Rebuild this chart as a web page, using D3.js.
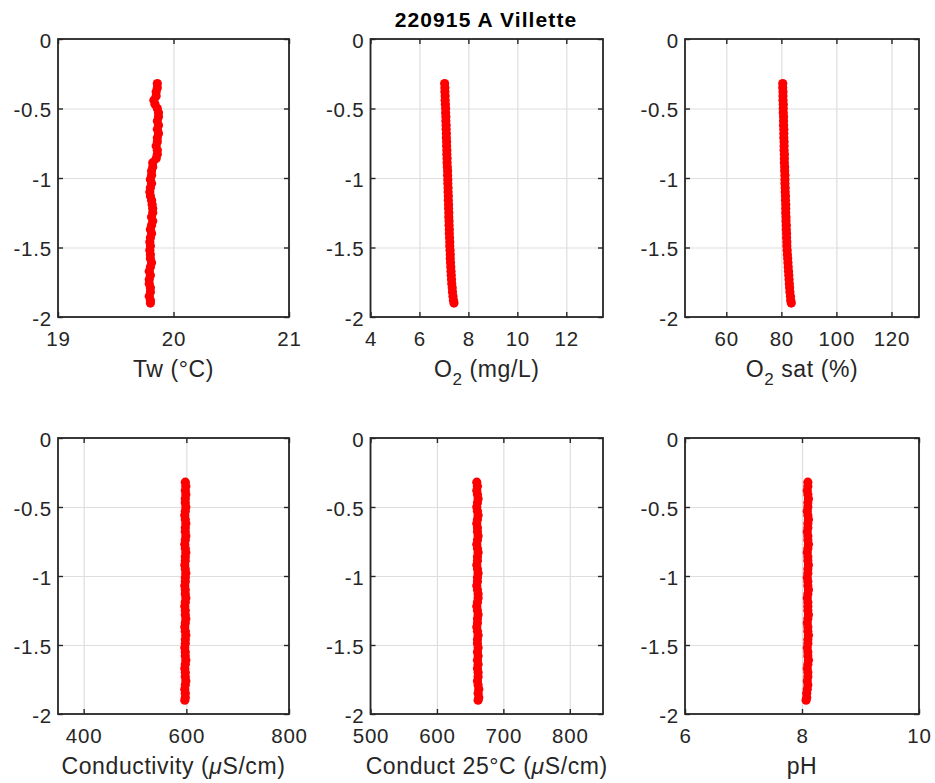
<!DOCTYPE html>
<html><head><meta charset="utf-8">
<script src="https://cdn.jsdelivr.net/npm/d3@7"></script>
<style>
body{margin:0;background:#fff}
svg{display:block}
text{font-family:"Liberation Sans",Arial,Helvetica,sans-serif;fill:#262626;white-space:pre}
</style>
</head><body>
<svg id="c" width="935" height="783"></svg>
<script>
// ---------- data ----------
const depth = [-0.32,-0.35,-0.38,-0.41,-0.44,-0.47,-0.50,-0.53,-0.56,-0.59,-0.62,-0.65,-0.68,-0.71,-0.74,-0.77,-0.80,-0.83,-0.86,-0.89,-0.92,-0.95,-0.98,-1.01,-1.04,-1.07,-1.10,-1.13,-1.16,-1.19,-1.22,-1.25,-1.28,-1.31,-1.34,-1.37,-1.40,-1.43,-1.46,-1.49,-1.52,-1.55,-1.58,-1.61,-1.64,-1.67,-1.70,-1.73,-1.76,-1.79,-1.82,-1.85,-1.88,-1.90];
const tempW = [19.86,19.86,19.85,19.85,19.83,19.84,19.86,19.87,19.87,19.86,19.87,19.86,19.87,19.86,19.86,19.85,19.86,19.86,19.85,19.82,19.82,19.81,19.81,19.80,19.81,19.80,19.795,19.80,19.81,19.815,19.82,19.82,19.81,19.82,19.81,19.80,19.81,19.80,19.795,19.80,19.795,19.80,19.80,19.81,19.80,19.79,19.80,19.79,19.79,19.80,19.80,19.79,19.80,19.80];
const o2mg = [7.03,7.04,7.04,7.05,7.05,7.06,7.07,7.07,7.08,7.08,7.09,7.09,7.10,7.10,7.11,7.11,7.12,7.12,7.13,7.13,7.14,7.15,7.15,7.16,7.16,7.17,7.17,7.18,7.18,7.19,7.19,7.20,7.20,7.21,7.21,7.22,7.22,7.23,7.24,7.24,7.25,7.26,7.26,7.27,7.28,7.29,7.30,7.31,7.32,7.34,7.35,7.37,7.39,7.41];
const o2sat = [80.5,80.5,80.6,80.6,80.6,80.7,80.7,80.7,80.8,80.8,80.8,80.9,80.9,80.9,81.0,81.0,81.0,81.1,81.1,81.1,81.2,81.2,81.3,81.3,81.3,81.4,81.4,81.5,81.5,81.6,81.6,81.6,81.7,81.7,81.8,81.8,81.9,81.9,82.0,82.0,82.1,82.2,82.3,82.4,82.5,82.6,82.7,82.8,82.9,83.0,83.1,83.3,83.4,83.6];
const cond = [598,599,598,599,598,598,599,598,597,598,599,598,598,599,598,597,598,599,598,598,597,598,599,598,598,597,598,598,599,598,597,598,598,599,598,597,598,599,598,598,597,598,598,599,598,597,598,598,599,598,597,598,598,597];
const cond25 = [660,661,660,661,662,661,660,661,662,661,660,661,661,662,661,660,661,662,661,661,660,661,662,661,661,660,661,662,662,661,660,661,662,661,661,660,661,662,661,661,662,661,662,661,662,661,662,662,661,662,663,662,663,662];
const ph = [8.10,8.10,8.09,8.10,8.11,8.10,8.10,8.09,8.10,8.11,8.10,8.10,8.09,8.10,8.10,8.11,8.10,8.09,8.10,8.10,8.11,8.10,8.10,8.09,8.10,8.10,8.11,8.10,8.09,8.10,8.10,8.10,8.11,8.10,8.09,8.10,8.10,8.11,8.10,8.10,8.09,8.10,8.10,8.11,8.10,8.09,8.10,8.10,8.09,8.10,8.09,8.08,8.08,8.07];

const titleText = "220915 A Villette";
const xDomains = [[19,21],[4,13.5],[45,130],[350,800],[500,850],[6,10]];
const xTickVals = [[19,20,21],[4,6,8,10,12],[60,80,100,120],[400,600,800],[500,600,700,800],[6,8,10]];
const yDomain = [-2,0];
const yTickVals = [0,-0.5,-1,-1.5,-2];
const xLabels = [
  [{t:"Tw (°C)"}],
  [{t:"O"},{t:"2",sub:true},{t:" (mg/L)"}],
  [{t:"O"},{t:"2",sub:true},{t:" sat (%)"}],
  [{t:"Conductivity ("},{t:"μ",it:true},{t:"S/cm)"}],
  [{t:"Conduct 25°C ("},{t:"μ",it:true},{t:"S/cm)"}],
  [{t:"pH"}]
];
const series = [tempW,o2mg,o2sat,cond,cond25,ph];

// ---------- layout ----------
const cols = [[58,289],[370.5,603],[685,919]];
const rows = [[39,317],[438,714]];
const TICK_FS = 20.5, TICK_LS = 0.8, LAB_FS = 23, LAB_LS = 0.6;
const AX = "#262626";

const svg = d3.select("#c");

function styleTicks(s){
  s.select(".domain").remove();
  s.attr("font-family",null).attr("font-size",null);
  s.selectAll(".tick line").attr("stroke",AX).attr("stroke-width",1.4);
  s.selectAll(".tick text").attr("fill",AX)
    .style("font-size",TICK_FS+"px").style("letter-spacing",TICK_LS+"px");
}

series.forEach((vals,i)=>{
  const col=i%3,row=Math.floor(i/3);
  const [x0,x1]=cols[col],[y0,y1]=rows[row];
  const x=d3.scaleLinear().domain(xDomains[i]).range([x0,x1]);
  const y=d3.scaleLinear().domain(yDomain).range([y1,y0]);
  const g=svg.append("g");
  const w=x1-x0,h=y1-y0;

  // grid
  g.append("g").attr("transform",`translate(0,${y1})`)
    .call(d3.axisBottom(x).tickValues(xTickVals[i]).tickSize(-h).tickFormat(""))
    .call(s=>{s.select(".domain").remove();s.selectAll("line").attr("stroke","#dedede").attr("stroke-width",1.2);});
  g.append("g").attr("transform",`translate(${x0},0)`)
    .call(d3.axisLeft(y).tickValues(yTickVals).tickSize(-w).tickFormat(""))
    .call(s=>{s.select(".domain").remove();s.selectAll("line").attr("stroke","#dedede").attr("stroke-width",1.2);});

  // points
  g.append("g").selectAll("circle")
    .data(depth.map((d,k)=>[vals[k],d]))
    .join("circle")
    .attr("cx",d=>x(d[0])).attr("cy",d=>y(d[1]))
    .attr("r",4.6).attr("fill","#ff0000");

  // axes (inward ticks)
  g.append("g").attr("transform",`translate(0,${y1})`)
    .call(d3.axisBottom(x).tickValues(xTickVals[i]).tickSize(-5).tickPadding(14.5).tickFormat(d=>String(d)))
    .call(styleTicks);
  g.append("g").attr("transform",`translate(0,${y0})`)
    .call(d3.axisTop(x).tickValues(xTickVals[i]).tickSize(-5).tickFormat(""))
    .call(styleTicks);
  g.append("g").attr("transform",`translate(${x0},0)`)
    .call(d3.axisLeft(y).tickValues(yTickVals).tickSize(-5).tickPadding(6).tickFormat(d=>String(d)))
    .call(styleTicks)
    .call(s=>s.selectAll(".tick text").attr("dy","0.39em"));
  g.append("g").attr("transform",`translate(${x1},0)`)
    .call(d3.axisRight(y).tickValues(yTickVals).tickSize(-5).tickFormat(""))
    .call(styleTicks);

  // box
  g.append("rect").attr("x",x0).attr("y",y0).attr("width",w).attr("height",h)
    .attr("fill","none").attr("stroke",AX).attr("stroke-width",1.8);

  // x label
  const lab=g.append("text").attr("x",(x0+x1)/2).attr("y",y1+60)
    .attr("text-anchor","middle").style("font-size",LAB_FS+"px").style("letter-spacing",LAB_LS+"px");
  let shifted=false;
  xLabels[i].forEach(p=>{
    const ts=lab.append("tspan").text(p.t);
    if(p.sub){ts.attr("dy",8).style("font-size","17px");shifted=true;}
    else if(shifted){ts.attr("dy",-8);shifted=false;}
    if(p.it) ts.style("font-style","italic");
  });
});

// title
svg.append("text").attr("x",486).attr("y",27).attr("text-anchor","middle")
  .style("font-size","21px").style("font-weight","bold").style("letter-spacing","1.1px")
  .attr("fill","#000").style("fill","#000").text(titleText);
</script>
</body></html>
